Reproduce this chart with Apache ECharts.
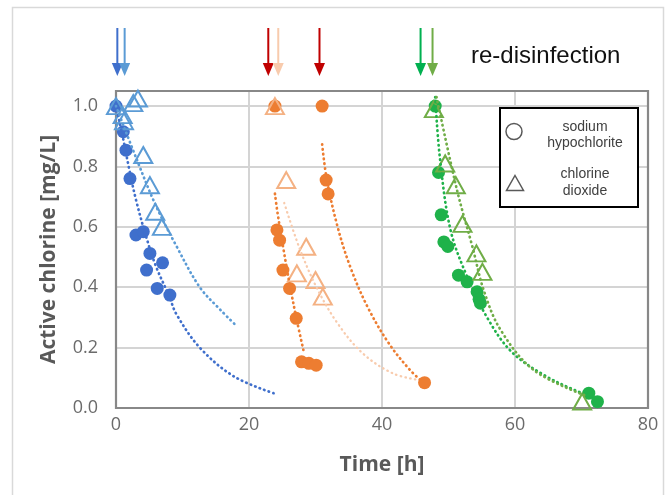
<!DOCTYPE html>
<html>
<head>
<meta charset="utf-8">
<script src="https://cdn.jsdelivr.net/npm/echarts@6/dist/echarts.min.js"></script>
<style>
  html, body { margin: 0; padding: 0; background: #fff; }
  #chart { width: 669px; height: 495px; }
</style>
</head>
<body>
<div id="chart"></div>
<script>
// measured points, time [h] and active chlorine [mg/L]
const blueNaT = [0, 1.1, 1.5, 2.1, 3.0, 4.1, 5.1, 7.0, 4.6, 6.2, 8.1];
const blueNaC = [1.0, 0.915, 0.854, 0.76, 0.573, 0.584, 0.512, 0.481, 0.457, 0.396, 0.374];
const blueClT = [0, 1.0, 1.2, 2.6, 3.3, 4.1, 5.1, 5.9, 6.9];
const blueClC = [1.0, 0.97, 0.95, 1.01, 1.025, 0.838, 0.738, 0.65, 0.60];

const orangeNaT = [23.9, 24.2, 24.6, 25.1, 26.1, 27.1, 27.9, 29.0, 30.1, 31.0, 31.6, 31.9, 46.4];
const orangeNaC = [1.0, 0.59, 0.556, 0.457, 0.396, 0.297, 0.153, 0.148, 0.142, 1.0, 0.755, 0.709, 0.084];
const orangeClT = [23.9, 25.6, 28.6, 27.2, 30.0, 31.1];
const orangeClC = [1.0, 0.755, 0.534, 0.446, 0.424, 0.369];

const greenNaT = [48.0, 48.5, 48.9, 49.3, 49.9, 51.5, 52.8, 54.3, 54.6, 54.8, 71.1, 72.4];
const greenNaC = [1.0, 0.78, 0.64, 0.55, 0.535, 0.44, 0.418, 0.385, 0.36, 0.347, 0.049, 0.021];
const greenClT = [47.8, 49.5, 51.1, 52.1, 54.2, 55.1, 70.1];
const greenClC = [0.99, 0.81, 0.738, 0.61, 0.512, 0.451, 0.021];

// trend lines
const fitBlueNaT = [0, 1, 2, 3, 4.5, 6, 8, 9.1, 12.6, 17.7, 23.7];
const fitBlueNaC = [1.0, 0.9, 0.79, 0.69, 0.57, 0.47, 0.37, 0.31, 0.2, 0.105, 0.049];
const fitBlueClT = [0, 3, 6, 9, 12.6, 15.7, 18.2];
const fitBlueClC = [1.0, 0.83, 0.67, 0.54, 0.40, 0.325, 0.27];
const fitOrange1T = [23.9, 24.3, 25.2, 26.2, 27.2, 28.3];
const fitOrange1C = [0.71, 0.645, 0.524, 0.40, 0.29, 0.18];
const fitOrange2T = [31.0, 31.7, 33.3, 35.2, 37.8, 41.0, 44.2, 46.1];
const fitOrange2C = [0.873, 0.757, 0.602, 0.469, 0.336, 0.215, 0.126, 0.087];
const fitPeachT = [25.3, 27.5, 30.1, 33.3, 37.1, 41.6, 45.5];
const fitPeachC = [0.679, 0.535, 0.402, 0.281, 0.181, 0.115, 0.093];
const fitGreenNaT = [48.0, 48.7, 50.3, 52.8, 55.8, 59.3, 63.9, 68.9, 72.4];
const fitGreenNaC = [1.03, 0.83, 0.59, 0.435, 0.30, 0.19, 0.115, 0.06, 0.032];
const fitGreenClT = [48.2, 51.3, 53.6, 55.3, 57.8, 62.8, 70.4];
const fitGreenClC = [1.03, 0.72, 0.534, 0.39, 0.26, 0.126, 0.043];

// dosing arrows
const arrowT = [0.2, 1.3, 22.9, 24.4, 30.6, 45.8, 47.6];
const arrowColors = ['#3f6fcc', '#5b9bd5', '#c00000', '#f8cbad', '#c00000', '#00b050', '#70ad47'];

const xTicks = [0, 20, 40, 60, 80];
const yTicks = [0, 0.2, 0.4, 0.6, 0.8, 1.0];
const X_MAX = 80, Y_MAX = 1.05;

function zip(a, b) { return a.map((v, i) => [v, b[i]]); }

const G_LEFT = 116, G_RIGHT = 21;

function circles(name, t, c, color) {
  return {
    name: name, type: 'scatter', xAxisIndex: 0, yAxisIndex: 0,
    data: zip(t, c), symbol: 'circle', symbolSize: 13, z: 2,
    itemStyle: { color: color, opacity: 1 }
  };
}
function triangles(name, t, c, color) {
  return {
    name: name, type: 'scatter', xAxisIndex: 0, yAxisIndex: 0,
    data: zip(t, c), symbol: 'triangle', symbolSize: [18, 16], z: 2,
    itemStyle: { color: 'rgba(255,255,255,0)', borderColor: color, borderWidth: 2, opacity: 1 }
  };
}
function fit(name, t, c, color, w) {
  return {
    name: name, type: 'line', xAxisIndex: 0, yAxisIndex: 0,
    data: zip(t, c), showSymbol: false, smooth: 0.35, z: 3,
    lineStyle: { color: color, width: w || 2.7, type: [0.5, 4.3], cap: 'round' }
  };
}

const chart = echarts.init(document.getElementById('chart'));
chart.setOption({
  animation: false,
  backgroundColor: '#fff',
  grid: [
    { left: G_LEFT, right: G_RIGHT, top: 91, bottom: 87 },
    { left: G_LEFT, right: G_RIGHT, top: 28, height: 48 }
  ],
  xAxis: [
    {
      type: 'value', gridIndex: 0, min: 0, max: X_MAX, interval: 20,
      name: 'Time [h]', nameLocation: 'middle', nameGap: 47,
      nameTextStyle: { fontFamily: 'Open Sans', fontWeight: 'bold', fontSize: 21, color: '#595959' },
      axisLine: { show: false },
      axisTick: { show: false },
      axisLabel: { margin: 8, fontFamily: 'Open Sans', fontSize: 18, color: '#6b6b6b',
        formatter: v => xTicks.indexOf(v) >= 0 ? String(v) : '' },
      splitLine: { show: true, showMinLine: false, showMaxLine: false, lineStyle: { color: '#d4d4d4', width: 2 } }
    },
    {
      type: 'value', gridIndex: 1, min: 0, max: X_MAX, show: false
    }
  ],
  yAxis: [
    {
      type: 'value', gridIndex: 0, min: 0, max: Y_MAX, interval: 0.2,
      name: 'Active chlorine [mg/L]', nameLocation: 'middle', nameGap: 56,
      nameTextStyle: { fontFamily: 'Open Sans', fontWeight: 'bold', fontSize: 21, color: '#595959' },
      axisLine: { show: false },
      axisTick: { show: false },
      axisLabel: { margin: 18, fontFamily: 'Open Sans', fontSize: 18, color: '#6b6b6b', showMaxLabel: false,
        formatter: v => yTicks.some(t => Math.abs(t - v) < 1e-6) ? v.toFixed(1) : '' },
      splitLine: { show: true, showMinLine: false, showMaxLine: false, lineStyle: { color: '#d4d4d4', width: 2 } }
    },
    {
      type: 'value', gridIndex: 1, min: 0, max: 1, show: false
    }
  ],
  series: [
    circles('blue NaOCl', blueNaT, blueNaC, '#3f6fcc'),
    triangles('blue ClO2', blueClT, blueClC, '#5b9bd5'),
    circles('orange NaOCl', orangeNaT, orangeNaC, '#ed7d31'),
    triangles('orange ClO2', orangeClT, orangeClC, '#f4b183'),
    circles('green NaOCl', greenNaT, greenNaC, '#1fb24a'),
    triangles('green ClO2', greenClT, greenClC, '#70ad47'),
    fit('fit blue NaOCl', fitBlueNaT, fitBlueNaC, '#3f6fcc'),
    fit('fit blue ClO2', fitBlueClT, fitBlueClC, '#5b9bd5'),
    fit('fit orange 1', fitOrange1T, fitOrange1C, '#ed7d31'),
    fit('fit orange 2', fitOrange2T, fitOrange2C, '#ed7d31'),
    fit('fit peach', fitPeachT, fitPeachC, '#f8cbad', 2.3),
    fit('fit green NaOCl', fitGreenNaT, fitGreenNaC, '#1fb24a'),
    fit('fit green ClO2', fitGreenClT, fitGreenClC, '#70ad47'),
    {
      name: 'arrows', type: 'custom', xAxisIndex: 1, yAxisIndex: 1,
      data: arrowT.map(t => [t, 0]),
      renderItem: function (params, api) {
        const x = api.value(0);
        const top = api.coord([x, 1]);
        const tip = api.coord([x, 0]);
        const color = arrowColors[params.dataIndex];
        const hh = 13, hw = 11;
        return {
          type: 'group',
          children: [
            { type: 'line', shape: { x1: top[0], y1: top[1], x2: tip[0], y2: tip[1] - hh + 1 },
              style: { stroke: color, lineWidth: 2 } },
            { type: 'polygon', shape: { points: [[tip[0] - hw / 2, tip[1] - hh], [tip[0] + hw / 2, tip[1] - hh], [tip[0], tip[1]]] },
              style: { fill: color } }
          ]
        };
      }
    }
  ]
});

// plot frame from the axes' own scale, plus title and legend box
const p0 = chart.convertToPixel({ gridIndex: 0 }, [0, 0]);
const p1 = chart.convertToPixel({ gridIndex: 0 }, [X_MAX, Y_MAX]);
const legendFont = '14px "Liberation Sans", Arial, sans-serif';
chart.setOption({
  graphic: [
    { type: 'rect', silent: true, z: -10, shape: { x: 12.5, y: 7.5, width: 651, height: 500 },
      style: { fill: 'none', stroke: '#d9d9d9', lineWidth: 1.5 } },
    { type: 'rect', silent: true, z: 1, shape: { x: p0[0], y: p1[1], width: p1[0] - p0[0], height: p0[1] - p1[1] },
      style: { fill: 'none', stroke: '#888888', lineWidth: 2.2 } },
    { type: 'text', left: 471, top: 44, style: { text: 're-disinfection', font: '24px "Liberation Sans", Arial, sans-serif', fill: '#111' } },
    { type: 'group', z: 100, children: [
      { type: 'rect', shape: { x: 500, y: 108, width: 138, height: 99 },
        style: { fill: '#fff', stroke: '#000', lineWidth: 2 } },
      { type: 'circle', shape: { cx: 514, cy: 131.5, r: 8 },
        style: { fill: 'none', stroke: '#595959', lineWidth: 1.5 } },
      { type: 'polygon', shape: { points: [[515, 175.5], [523.5, 190.5], [506.5, 190.5]] },
        style: { fill: 'none', stroke: '#595959', lineWidth: 1.5 } },
      { type: 'text', x: 585, y: 127, style: { text: 'sodium', font: legendFont, fill: '#404040', align: 'center', verticalAlign: 'middle' } },
      { type: 'text', x: 585, y: 143.5, style: { text: 'hypochlorite', font: legendFont, fill: '#404040', align: 'center', verticalAlign: 'middle' } },
      { type: 'text', x: 585, y: 174.5, style: { text: 'chlorine', font: legendFont, fill: '#404040', align: 'center', verticalAlign: 'middle' } },
      { type: 'text', x: 585, y: 191.5, style: { text: 'dioxide', font: legendFont, fill: '#404040', align: 'center', verticalAlign: 'middle' } }
    ] }
  ]
});
</script>
</body>
</html>
